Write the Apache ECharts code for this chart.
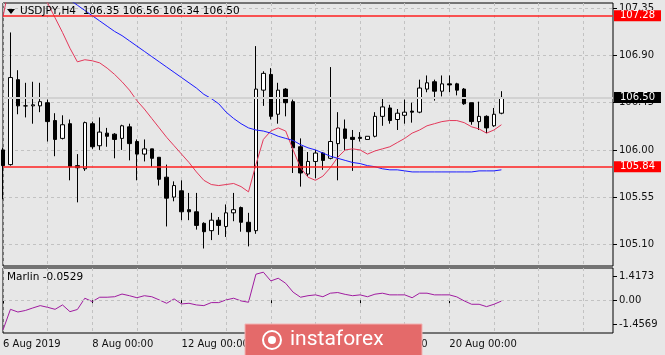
<!DOCTYPE html>
<html>
<head>
<meta charset="utf-8">
<title>USDJPY,H4</title>
<script src="https://cdn.jsdelivr.net/npm/echarts@6/dist/echarts.min.js"></script>
<style>
    html, body { margin: 0; padding: 0; background: #e7e7e7; }
    #main { width: 665px; height: 355px; }
</style>
</head>
<body>
<div id="main"></div>
<script>
// H4 bars, 6 per trading day
var tradingDays = ['06', '07', '08', '09', '12', '13', '14', '15', '16', '19', '20', '21'];
var barHours = ['00:00', '04:00', '08:00', '12:00', '16:00', '20:00'];
var barCount = 68;
var emptySlots = 15;

var opens = [106.00, 105.86, 106.67, 106.42, 106.42, 106.42, 106.45, 106.28, 106.11, 106.25,
    105.85, 105.82, 106.25, 106.04, 106.16, 106.15, 106.11, 106.22, 106.08, 105.96,
    106.01, 105.93, 105.74, 105.55, 105.61, 105.43, 105.41, 105.30, 105.23, 105.33,
    105.27, 105.40, 105.45, 105.31, 105.23, 106.57, 106.72, 106.34, 106.58, 106.46,
    106.03, 105.77, 105.89, 105.97, 105.92, 106.06, 106.20, 106.12, 106.12, 106.10,
    106.13, 106.32, 106.40, 106.29, 106.33, 106.37, 106.36, 106.58, 106.65, 106.56,
    106.63, 106.63, 106.58, 106.45, 106.27, 106.32, 106.23, 106.35];
var highs = [106.02, 107.12, 106.76, 106.64, 106.65, 106.64, 106.48, 106.35, 106.33, 106.29,
    105.96, 106.27, 106.27, 106.31, 106.21, 106.16, 106.24, 106.25, 106.10, 106.10,
    106.01, 105.93, 105.86, 105.70, 105.71, 105.59, 105.59, 105.31, 105.40, 105.36,
    105.48, 105.59, 105.46, 105.40, 106.99, 106.75, 106.78, 106.64, 106.59, 106.48,
    106.11, 105.98, 106.00, 105.98, 106.79, 106.36, 106.29, 106.19, 106.17, 106.13,
    106.36, 106.50, 106.43, 106.39, 106.48, 106.45, 106.67, 106.71, 106.67, 106.71,
    106.71, 106.64, 106.59, 106.45, 106.46, 106.33, 106.40, 106.56];
var lows = [105.53, 105.85, 106.34, 106.31, 106.25, 106.36, 106.08, 105.94, 106.10, 105.71,
    105.50, 105.80, 106.01, 106.00, 106.03, 105.92, 106.00, 105.90, 105.71, 105.89,
    105.84, 105.66, 105.27, 105.51, 105.33, 105.33, 105.24, 105.06, 105.14, 105.19,
    105.17, 105.32, 105.22, 105.08, 105.20, 106.42, 106.29, 106.25, 106.32, 105.78,
    105.65, 105.75, 105.73, 105.81, 105.91, 105.71, 106.00, 105.80, 106.08, 106.10,
    106.12, 106.23, 106.25, 106.19, 106.25, 106.26, 106.35, 106.55, 106.47, 106.51,
    106.55, 106.52, 106.43, 106.24, 106.19, 106.16, 106.22, 106.34];
var closes = [105.85, 106.69, 106.42, 106.42, 106.43, 106.46, 106.27, 106.10, 106.24, 105.84,
    105.83, 106.26, 106.03, 106.17, 106.13, 106.10, 106.23, 106.06, 105.96, 106.01,
    105.92, 105.72, 105.54, 105.66, 105.41, 105.41, 105.28, 105.22, 105.33, 105.28,
    105.40, 105.43, 105.31, 105.22, 106.58, 106.73, 106.32, 106.57, 106.45, 106.02,
    105.78, 105.89, 105.97, 105.90, 106.08, 106.21, 106.11, 106.10, 106.11, 106.13,
    106.32, 106.41, 106.28, 106.35, 106.36, 106.36, 106.59, 106.64, 106.56, 106.63,
    106.62, 106.57, 106.44, 106.27, 106.32, 106.21, 106.34, 106.50];

// moving averages drawn over the price
var redMA = [107.27, 107.62, 107.68, 107.66, 107.60, 107.48, 107.40, 107.26, 107.12, 106.97,
    106.84, 106.86, 106.85, 106.83, 106.78, 106.72, 106.65, 106.57, 106.47, 106.39,
    106.30, 106.21, 106.12, 106.04, 105.96, 105.88, 105.79, 105.71, 105.67, 105.66,
    105.67, 105.68, 105.65, 105.60, 105.86, 106.10, 106.18, 106.21, 106.18, 106.00,
    105.83, 105.74, 105.71, 105.75, 105.83, 105.93, 106.00, 106.01, 106.00, 105.96,
    105.99, 106.01, 106.03, 106.07, 106.11, 106.16, 106.19, 106.23, 106.25, 106.27,
    106.28, 106.28, 106.26, 106.22, 106.20, 106.16, 106.19, 106.24];
var blueMA = [107.87, 107.82, 107.77, 107.72, 107.67, 107.62, 107.58, 107.53, 107.48, 107.43,
    107.38, 107.33, 107.28, 107.23, 107.18, 107.13, 107.09, 107.04, 106.99, 106.94,
    106.89, 106.84, 106.79, 106.74, 106.69, 106.64, 106.59, 106.53, 106.49, 106.44,
    106.36, 106.30, 106.25, 106.21, 106.19, 106.18, 106.16, 106.13, 106.11, 106.09,
    106.05, 106.02, 106.00, 105.97, 105.94, 105.92, 105.90, 105.88, 105.87, 105.85,
    105.84, 105.82, 105.81, 105.81, 105.80, 105.79, 105.79, 105.79, 105.79, 105.79,
    105.79, 105.79, 105.79, 105.79, 105.80, 105.80, 105.80, 105.81];

// Marlin oscillator (lower window)
var marlin = [-1.77, -0.54, -0.70, -0.61, -0.46, -0.32, -0.42, -0.54, -0.28, -0.68,
    -0.55, 0.12, -0.08, 0.18, 0.18, 0.21, 0.37, 0.27, 0.15, 0.27,
    0.21, 0.02, -0.18, 0.08, -0.22, -0.18, -0.28, -0.32, -0.14, -0.14,
    0.02, 0.12, -0.04, -0.12, 1.55, 1.67, 1.15, 1.31, 1.01, 0.48,
    0.18, 0.27, 0.32, 0.21, 0.42, 0.46, 0.35, 0.27, 0.32, 0.21,
    0.36, 0.42, 0.32, 0.32, 0.32, 0.15, 0.42, 0.42, 0.32, 0.32,
    0.32, 0.20, -0.04, -0.24, -0.24, -0.38, -0.24, -0.05];

var priceTicks = [105.10, 105.55, 106.00, 106.45, 106.90, 107.35];
var marlinTicks = [-1.4569, 0, 1.4173];
var marlinTickText = ['-1.4569', '0.00', '1.4173'];
var levelLines = [107.28, 105.84];
var lastPrice = 106.50;
var marlinLast = '-0.0529';

var categories = [];
for (var d = 0; d < tradingDays.length; d++) {
    for (var h = 0; h < barHours.length; h++) {
        if (categories.length < barCount) {
            categories.push('2019-08-' + tradingDays[d] + ' ' + barHours[h]);
        }
    }
}
for (var k = 0; k < emptySlots; k++) {
    categories.push('');
}

var candles = [];
for (var i = 0; i < barCount; i++) {
    candles.push([opens[i], closes[i], lows[i], highs[i]]);
}

var FONT = 'DejaVu Sans';
var labelEvery = function (index, value) {
    return value !== '' && index % 12 === 0;
};
var gridEvery = function (index) {
    return index % 6 === 0;
};
var dashed = {color: '#c2c2c2', type: [3, 3], width: 1};

function levelLabel(text, bg) {
    return {
        show: true, position: 'end', distance: 1,
        formatter: text,
        color: '#fff', backgroundColor: bg,
        fontSize: 10, fontFamily: FONT, padding: [1, 6, 0, 6]
    };
}

var myChart = echarts.init(document.getElementById('main'));
var option = {
    animation: false,
    backgroundColor: '#e7e7e7',
    grid: [
        {left: 3, top: 3, width: 610, height: 263, show: true, borderColor: '#000', borderWidth: 1},
        {left: 3, top: 268, width: 610, height: 65, show: true, borderColor: '#000', borderWidth: 1}
    ],
    xAxis: [
        {
            type: 'category', gridIndex: 0, data: categories, boundaryGap: false,
            axisLine: {show: false}, axisTick: {show: false}, axisLabel: {show: false},
            splitLine: {show: true, interval: gridEvery, lineStyle: dashed}
        },
        {
            type: 'category', gridIndex: 1, data: categories, boundaryGap: false,
            axisLine: {show: false},
            axisTick: {show: true, interval: labelEvery, length: 3, lineStyle: {color: '#000'}},
            axisLabel: {
                show: true, interval: labelEvery, align: 'left', margin: 6,
                color: '#111', fontSize: 10, fontFamily: FONT,
                formatter: function (value, index) {
                    if (value === '') return '';
                    var day = +value.slice(8, 10);
                    if (index === 0) return day + ' Aug 2019';
                    return day + ' Aug ' + value.slice(11);
                }
            },
            splitLine: {show: true, interval: gridEvery, lineStyle: dashed}
        }
    ],
    yAxis: [
        {
            type: 'value', gridIndex: 0, position: 'right', min: 104.893, max: 107.401,
            axisLine: {show: false},
            axisTick: {show: true, customValues: priceTicks, length: 4, lineStyle: {color: '#000'}},
            axisLabel: {
                customValues: priceTicks, margin: 6, color: '#111', fontSize: 10, fontFamily: FONT,
                formatter: function (v) { return v.toFixed(2); }
            },
            splitLine: {show: true, lineStyle: dashed}
        },
        {
            type: 'value', gridIndex: 1, position: 'right', min: -1.95, max: 1.92,
            axisLine: {show: false},
            axisTick: {show: true, customValues: marlinTicks, length: 4, lineStyle: {color: '#000'}},
            axisLabel: {
                customValues: marlinTicks, margin: 6, color: '#111', fontSize: 10, fontFamily: FONT,
                formatter: function (v) {
                    var idx = marlinTicks.indexOf(v);
                    return idx >= 0 ? marlinTickText[idx] : '';
                }
            },
            splitLine: {show: false}
        }
    ],
    series: [
        {
            name: 'USDJPY',
            type: 'candlestick',
            xAxisIndex: 0, yAxisIndex: 0,
            data: candles,
            barWidth: 4,
            itemStyle: {
                color: '#ffffff', color0: '#000000',
                borderColor: '#000000', borderColor0: '#000000', borderWidth: 1
            },
            markLine: {
                silent: true,
                symbol: ['none', 'none'],
                animation: false,
                data: [
                    {
                        yAxis: lastPrice,
                        lineStyle: {color: '#d2d2d2', width: 2, type: 'solid'},
                        label: levelLabel(lastPrice.toFixed(2), '#000')
                    },
                    {
                        yAxis: levelLines[0],
                        lineStyle: {color: '#ff2020', width: 1.5, type: 'solid'},
                        label: levelLabel(levelLines[0].toFixed(2), '#ff0000')
                    },
                    {
                        yAxis: levelLines[1],
                        lineStyle: {color: '#ff2020', width: 1.5, type: 'solid'},
                        label: levelLabel(levelLines[1].toFixed(2), '#ff0000')
                    }
                ]
            }
        },
        {
            name: 'MA red',
            type: 'line',
            xAxisIndex: 0, yAxisIndex: 0,
            data: redMA,
            symbol: 'none',
            lineStyle: {color: '#e3385a', width: 1}
        },
        {
            name: 'MA blue',
            type: 'line',
            xAxisIndex: 0, yAxisIndex: 0,
            data: blueMA,
            symbol: 'none',
            lineStyle: {color: '#1a1aff', width: 1}
        },
        {
            name: 'Marlin',
            type: 'line',
            xAxisIndex: 1, yAxisIndex: 1,
            data: marlin,
            symbol: 'none',
            lineStyle: {color: '#a01ca0', width: 1},
            markLine: {
                silent: true,
                symbol: ['none', 'none'],
                label: {show: false},
                lineStyle: dashed,
                data: [{yAxis: 0}]
            }
        }
    ],
    graphic: [
        {
            type: 'polygon', z: 100,
            shape: {points: [[7, 9], [15, 9], [11, 14]]},
            style: {fill: '#000'}
        },
        {
            type: 'text', z: 100, left: 20, top: 6,
            style: {
                text: 'USDJPY,H4  ' + [opens[barCount - 1], highs[barCount - 1], lows[barCount - 1], closes[barCount - 1]]
                    .map(function (v) { return v.toFixed(2); }).join(' '),
                fill: '#000', font: '10.5px "DejaVu Sans"'
            }
        },
        {
            type: 'text', z: 100, left: 7, top: 272,
            style: {text: 'Marlin ' + marlinLast, fill: '#000', font: '10.5px "DejaVu Sans"'}
        },
        {
            type: 'group', z: 200,
            children: [
                {
                    type: 'rect', z: 200,
                    shape: {x: 245, y: 324, width: 177, height: 40},
                    style: {fill: '#e46a6a', stroke: '#f2b3b3', lineWidth: 1}
                },
                {
                    type: 'circle', z: 201,
                    shape: {cx: 272, cy: 340, r: 9},
                    style: {fill: 'none', stroke: '#fff', lineWidth: 2}
                },
                {
                    type: 'circle', z: 201,
                    shape: {cx: 272, cy: 340, r: 4},
                    style: {fill: '#fff'}
                },
                {
                    type: 'text', z: 201, x: 290, y: 340,
                    style: {
                        text: 'instaforex', fill: '#fff', font: '21px Roboto',
                        verticalAlign: 'middle', align: 'left'
                    }
                }
            ]
        }
    ]
};
myChart.setOption(option);
</script>
</body>
</html>
